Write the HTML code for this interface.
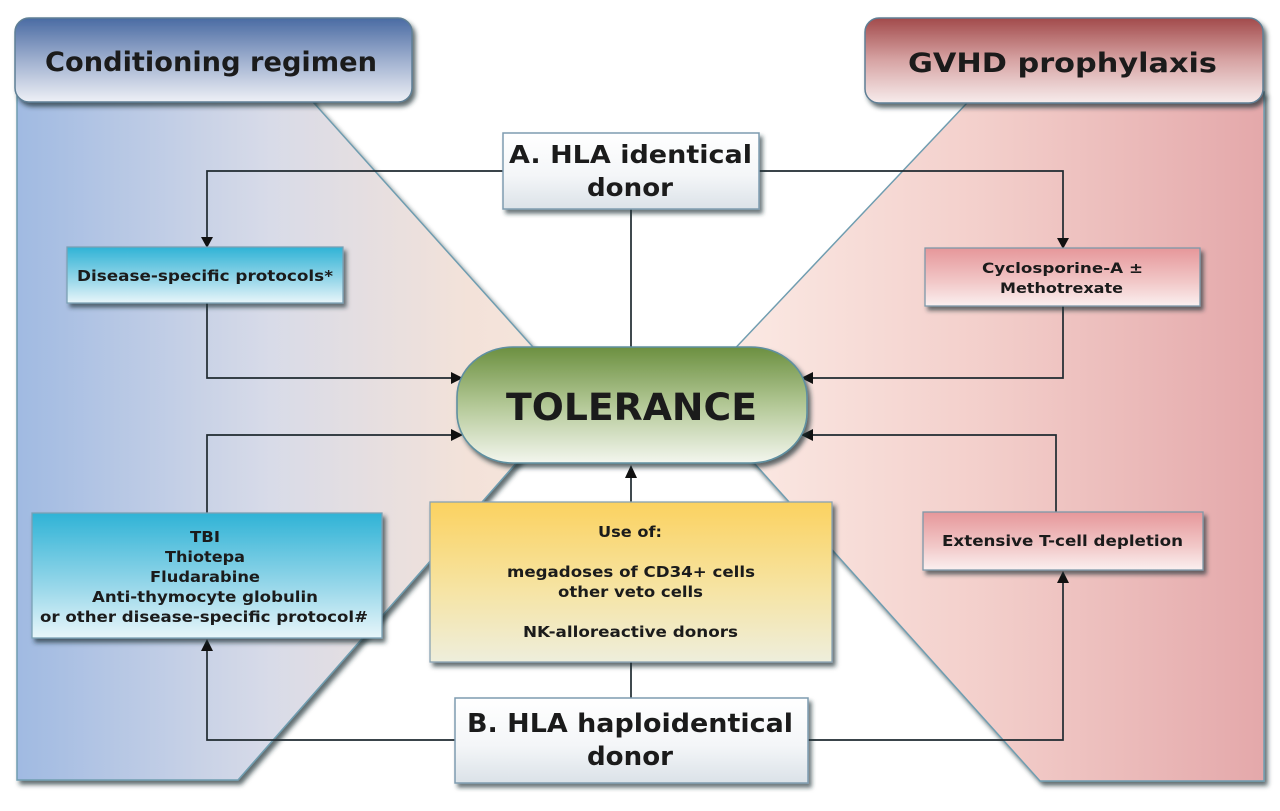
<!DOCTYPE html>
<html><head><meta charset="utf-8"><style>
html,body{margin:0;padding:0;background:#fff;}
svg{display:block;}
text{font-family:"DejaVu Sans","Liberation Sans",sans-serif;font-weight:bold;fill:#1b1b1b;}
</style></head><body>
<svg width="1280" height="811" viewBox="0 0 1280 811" xmlns="http://www.w3.org/2000/svg">
<defs>
<linearGradient id="lp" x1="17" y1="0" x2="580" y2="0" gradientUnits="userSpaceOnUse">
<stop offset="0" stop-color="#a0bae2"/><stop offset="0.45" stop-color="#d8dbe8"/><stop offset="0.8" stop-color="#f3e2d9"/><stop offset="1" stop-color="#f6e6dc"/></linearGradient>
<linearGradient id="rp" x1="700" y1="0" x2="1264" y2="0" gradientUnits="userSpaceOnUse">
<stop offset="0" stop-color="#fcede7"/><stop offset="0.5" stop-color="#f3cfcb"/><stop offset="1" stop-color="#e4a8aa"/></linearGradient>
<linearGradient id="hb" x1="0" y1="0" x2="0" y2="1"><stop offset="0" stop-color="#4a6ba3"/><stop offset="0.5" stop-color="#9fb0cf"/><stop offset="1" stop-color="#eef0f6"/></linearGradient>
<linearGradient id="hr" x1="0" y1="0" x2="0" y2="1"><stop offset="0" stop-color="#a24a4b"/><stop offset="0.5" stop-color="#d7a4a4"/><stop offset="1" stop-color="#f7ecec"/></linearGradient>
<linearGradient id="wg" x1="0" y1="0" x2="0" y2="1"><stop offset="0" stop-color="#ffffff"/><stop offset="0.55" stop-color="#f4f6f8"/><stop offset="1" stop-color="#dbe2e8"/></linearGradient>
<linearGradient id="cy" x1="0" y1="0" x2="0" y2="1"><stop offset="0" stop-color="#2fb3d6"/><stop offset="0.6" stop-color="#9ad8ea"/><stop offset="1" stop-color="#e8f6fa"/></linearGradient>
<linearGradient id="pk" x1="0" y1="0" x2="0" y2="1"><stop offset="0" stop-color="#e6979a"/><stop offset="0.6" stop-color="#f2c9c9"/><stop offset="1" stop-color="#fbf0f0"/></linearGradient>
<linearGradient id="yl" x1="0" y1="0" x2="0" y2="1"><stop offset="0" stop-color="#fbd260"/><stop offset="0.55" stop-color="#f6e4a4"/><stop offset="1" stop-color="#eeeedc"/></linearGradient>
<linearGradient id="gr" x1="0" y1="0" x2="0" y2="1"><stop offset="0" stop-color="#6c9040"/><stop offset="0.5" stop-color="#b3c896"/><stop offset="1" stop-color="#f3f6ee"/></linearGradient>
<filter id="sh" x="-10%" y="-10%" width="125%" height="130%"><feDropShadow dx="3" dy="4" stdDeviation="2.5" flood-color="#1f2d36" flood-opacity="0.7"/></filter>
<filter id="sh2" x="-10%" y="-10%" width="125%" height="130%"><feDropShadow dx="3" dy="4" stdDeviation="2" flood-color="#1f2d36" flood-opacity="0.65"/></filter>
</defs>

<!-- panels -->
<polygon points="17,92 313,92 313,102 576,395 238,780 17,780" fill="url(#lp)" stroke="#6f9db0" stroke-width="1.5" filter="url(#sh)"/>
<polygon points="1264,92 967,92 967,103 692,394 1040,781 1264,781" fill="url(#rp)" stroke="#6f9db0" stroke-width="1.5" filter="url(#sh)"/>

<!-- headers -->
<rect x="15" y="18" width="397" height="84" rx="14" fill="url(#hb)" stroke="#5e7f95" stroke-width="1.5" filter="url(#sh)"/>
<rect x="865" y="18" width="398" height="85" rx="14" fill="url(#hr)" stroke="#5e7f95" stroke-width="1.5" filter="url(#sh)"/>
<text x="45" y="71" font-size="27" textLength="332" lengthAdjust="spacingAndGlyphs">Conditioning regimen</text>
<text x="908" y="72" font-size="27" textLength="309" lengthAdjust="spacingAndGlyphs">GVHD prophylaxis</text>

<!-- connectors -->
<g stroke="#1f2a30" stroke-width="1.7" fill="none">
<path d="M503,171 H207 V240"/>
<path d="M759,171 H1063 V240"/>
<path d="M631,209 V347"/>
<path d="M207,303 V378 H455"/>
<path d="M1063,306 V378 H810"/>
<path d="M207,513 V435 H455"/>
<path d="M1056,512 V435 H810"/>
<path d="M631,502 V474"/>
<path d="M631,662 V698"/>
<path d="M455,740 H207 V650"/>
<path d="M808,740 H1063 V582"/>
</g>
<g fill="#111">
<polygon points="201,237 213,237 207,248"/>
<polygon points="1057,238 1069,238 1063,249"/>
<polygon points="451,372 451,384 463,378"/>
<polygon points="813,372 813,384 801,378"/>
<polygon points="451,429 451,441 463,435"/>
<polygon points="813,429 813,441 801,435"/>
<polygon points="625,478 637,478 631,465"/>
<polygon points="201,651 213,651 207,639"/>
<polygon points="1057,583 1069,583 1063,571"/>
</g>

<!-- boxes -->
<rect x="503" y="133" width="256" height="76" fill="url(#wg)" stroke="#7e9cb0" stroke-width="1.5" filter="url(#sh2)"/>
<text x="509" y="163" font-size="25" textLength="243" lengthAdjust="spacingAndGlyphs">A. HLA identical</text>
<text x="587" y="196" font-size="25" textLength="86" lengthAdjust="spacingAndGlyphs">donor</text>

<rect x="67" y="247" width="276" height="56" fill="url(#cy)" stroke="#7aa0b4" stroke-width="1.3" filter="url(#sh2)"/>
<text x="77" y="281" font-size="15" textLength="256" lengthAdjust="spacingAndGlyphs" fill="#23323a">Disease-specific protocols*</text>

<rect x="925" y="248" width="275" height="58" fill="url(#pk)" stroke="#7e98a8" stroke-width="1.3" filter="url(#sh2)"/>
<text x="982" y="273" font-size="14" textLength="161" lengthAdjust="spacingAndGlyphs" fill="#23282c">Cyclosporine-A ±</text>
<text x="1000" y="293" font-size="14" textLength="123" lengthAdjust="spacingAndGlyphs" fill="#23282c">Methotrexate</text>

<rect x="457" y="347" width="350" height="116" rx="56" ry="50" fill="url(#gr)" stroke="#5f8fa0" stroke-width="1.6" filter="url(#sh)"/>
<text x="506" y="420" font-size="37" textLength="251" lengthAdjust="spacingAndGlyphs" fill="#111">TOLERANCE</text>

<rect x="32" y="513" width="350" height="125" fill="url(#cy)" stroke="#7aa0b4" stroke-width="1.3" filter="url(#sh)"/>
<g font-size="15" fill="#23323a">
<text x="190" y="542" textLength="30" lengthAdjust="spacingAndGlyphs">TBI</text>
<text x="165" y="562" textLength="80" lengthAdjust="spacingAndGlyphs">Thiotepa</text>
<text x="150" y="582" textLength="110" lengthAdjust="spacingAndGlyphs">Fludarabine</text>
<text x="92" y="602" textLength="226" lengthAdjust="spacingAndGlyphs">Anti-thymocyte globulin</text>
<text x="40" y="622" textLength="328" lengthAdjust="spacingAndGlyphs">or other disease-specific protocol#</text>
</g>

<rect x="430" y="502" width="402" height="160" fill="url(#yl)" stroke="#88a2b2" stroke-width="1.3" filter="url(#sh)"/>
<g font-size="15" fill="#2a2a24">
<text x="598" y="537" textLength="64" lengthAdjust="spacingAndGlyphs">Use of:</text>
<text x="507" y="577" textLength="248" lengthAdjust="spacingAndGlyphs">megadoses of CD34+ cells</text>
<text x="558" y="597" textLength="145" lengthAdjust="spacingAndGlyphs">other veto cells</text>
<text x="523" y="637" textLength="215" lengthAdjust="spacingAndGlyphs">NK-alloreactive donors</text>
</g>

<rect x="923" y="512" width="280" height="58" fill="url(#pk)" stroke="#7e98a8" stroke-width="1.3" filter="url(#sh2)"/>
<text x="942" y="546" font-size="15" textLength="241" lengthAdjust="spacingAndGlyphs" fill="#23282c">Extensive T-cell depletion</text>

<rect x="455" y="698" width="353" height="85" fill="url(#wg)" stroke="#7e9cb0" stroke-width="1.5" filter="url(#sh2)"/>
<text x="467" y="732" font-size="26" textLength="326" lengthAdjust="spacingAndGlyphs">B. HLA haploidentical</text>
<text x="587" y="765" font-size="26" textLength="86" lengthAdjust="spacingAndGlyphs">donor</text>
</svg>
</body></html>
